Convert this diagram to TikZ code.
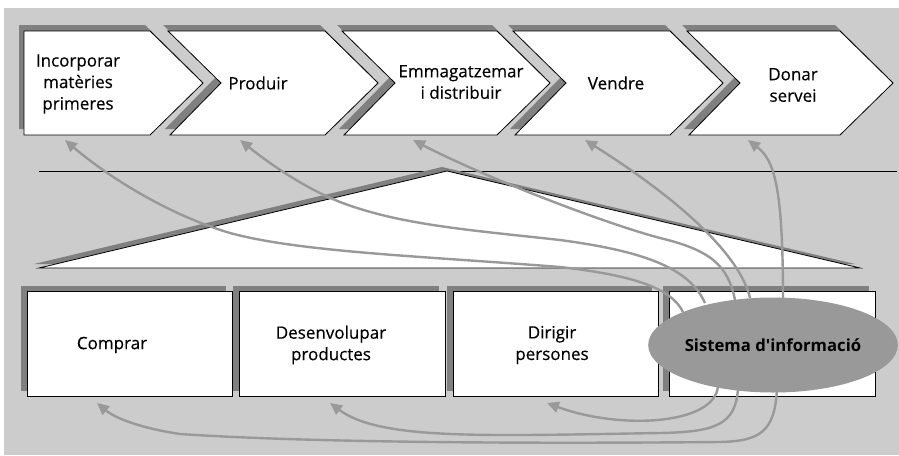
\documentclass[tikz,border=0pt]{standalone}
\usepackage{fontspec}
\setmainfont{Open Sans}
\newfontfamily\lblfont{Open Sans}[FakeBold=0.35]
\usetikzlibrary{arrows.meta,shapes.geometric}
\definecolor{bg}{HTML}{CCCCCC}
\definecolor{shd}{HTML}{808080}
\definecolor{arw}{HTML}{999999}
\begin{document}
\begin{tikzpicture}[x=1pt,y=-1pt,
  outl/.style={draw=black, fill=white, line width=0.8pt, line join=miter},
  shad/.style={fill=shd},
  lbl/.style={align=center, inner sep=0pt, font=\lblfont\fontsize{17}{21.5}\selectfont},
  arr/.style={draw=arw, line width=2.4pt, -{Triangle[length=12pt,width=11pt]}}]
\useasboundingbox (0,0) rectangle (899,455);
\fill[bg] (4,8) rectangle (899,455);
% ---- chevrons
\fill[shad,shift={(-5,-6)}] (24,31) -- (150,31) -- (203,83) -- (150,135) -- (24,135) -- cycle;
\draw[outl] (24,31) -- (150,31) -- (203,83) -- (150,135) -- (24,135) -- cycle;
\foreach \l/\r in {168/325,342/497,513/670,687/840}{
  \fill[shad,shift={(-5,-6)}] (\l,31) -- (\r,31) -- (\r+53,83) -- (\r,135) -- (\l+2,135) -- (\l+53,83) -- cycle;
}
\foreach \l/\r in {168/325,342/497,513/670,687/840}{
  \draw[outl] (\l,31) -- (\r,31) -- (\r+53,83) -- (\r,135) -- (\l+2,135) -- (\l+53,83) -- cycle;
}
\node[lbl] (p1) at (78,84) {Incorporar\\matèries\\primeres};
\node[lbl] (p2) at (258,83) {Produir};
\node[lbl] (p3) at (461,82) {Emmagatzemar\\i distribuir};
\node[lbl] (p4) at (616,83) {Vendre};
\node[lbl] (p5) at (793,85) {Donar\\servei};
% ---- line and triangle
\draw[line width=0.8pt] (39,171) -- (897,171);
\fill[shad,shift={(-5,-4)}] (447,171) -- (860,268) -- (39,268) -- cycle;
\draw[outl] (447,171) -- (860,268) -- (39,268) -- cycle;
% ---- boxes
\foreach \l/\r in {27/232,239/445,453/658,669/875}{
  \fill[shad,shift={(-6,-5)}] (\l,291) rectangle (\r,396);
}
\foreach \l/\r in {27/232,239/445,453/658,669/875}{
  \draw[outl] (\l,291) rectangle (\r,396);
}
\node[lbl] (b1) at (112,345) {Comprar};
\node[lbl] (b2) at (331,345) {Desenvolupar\\productes};
\node[lbl] (b3) at (552,345) {Dirigir\\persones};
% ---- arrow ends
\coordinate (s1) at (683,312); \coordinate (t1) at (65,140);
\coordinate (s2) at (705,303); \coordinate (t2) at (240,140);
\coordinate (s3) at (735,300); \coordinate (t3) at (413,140);
\coordinate (s4) at (750,298); \coordinate (t4) at (585,140);
\coordinate (s5) at (783,300); \coordinate (t5) at (748,140);
\coordinate (u1) at (777,388); \coordinate (v1) at (97,403);
\coordinate (u2) at (738,388); \coordinate (v2) at (330,403);
\coordinate (u3) at (718,386); \coordinate (v3) at (547,403);
\draw[arr] (s1) .. controls (672,290) and (640,276) .. (560,267)
               .. controls (420,256) and (300,252) .. (230,233)
               .. controls (160,212) and (100,170) .. (t1);
\draw[arr] (s2) .. controls (690,270) and (650,252) .. (560,240)
               .. controls (470,230) and (400,225) .. (340,202)
               .. controls (300,186) and (265,160) .. (t2);
\draw[arr] (s3) .. controls (728,265) and (710,250) .. (660,238)
               .. controls (600,222) and (480,175) .. (t3);
\draw[arr] (s4) .. controls (740,255) and (680,200) .. (t4);
\draw[arr] (s5) .. controls (783,185) and (774,160) .. (t5);
\draw[arr] (u1) .. controls (775,432) and (760,441) .. (720,442)
               .. controls (500,444) and (300,442) .. (180,434)
               .. controls (140,428) and (115,418) .. (v1);
\draw[arr] (u2) .. controls (736,425) and (715,432) .. (660,433)
               .. controls (480,436) and (380,440) .. (v2);
\draw[arr] (u3) .. controls (715,425) and (620,430) .. (v3);
% ---- ellipse
\node[ellipse, fill=arw, minimum width=230pt, minimum height=95pt, inner sep=0pt,
      font=\fontsize{16.7}{20}\selectfont\bfseries] (si) at (773,345) {Sistema d\textquotesingle informació};
\end{tikzpicture}
\end{document}
